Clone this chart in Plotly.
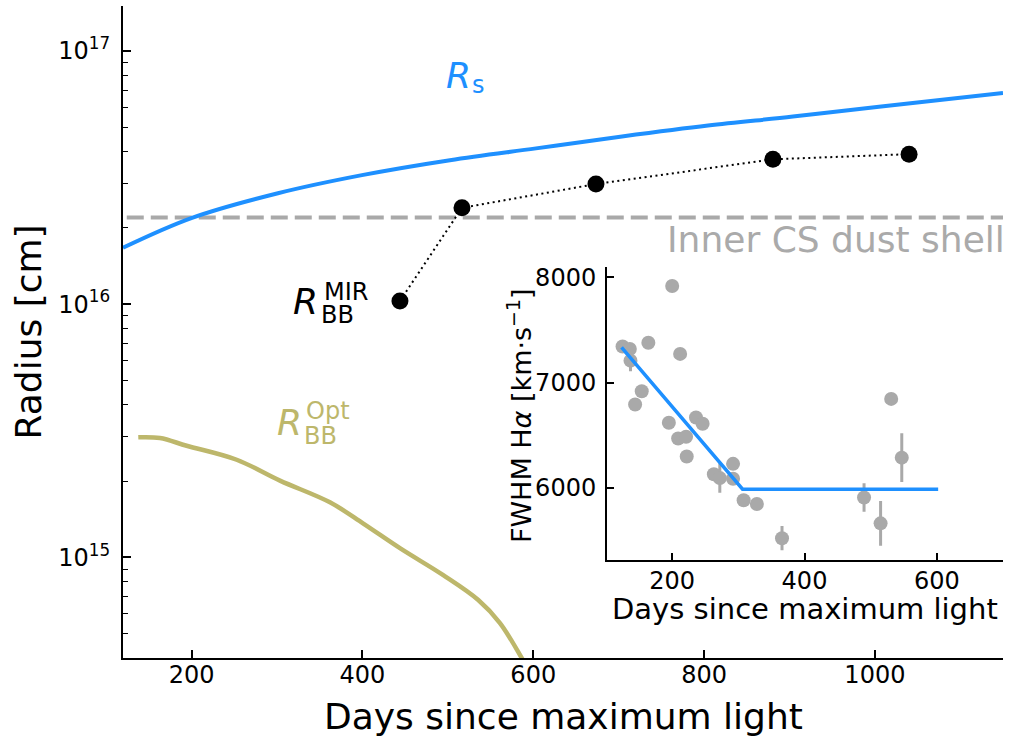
import plotly.graph_objects as go

# ---------------- main panel data ----------------
rs_days = [119.6, 200.4, 301, 399.4, 502.4, 603.2, 703.9, 804.6, 904, 1004.8, 1150]
rs_radius = [1.669e16, 2.19e16, 2.74e16, 3.23e16, 3.70e16, 4.12e16, 4.59e16, 5.07e16,
             5.50e16, 6.02e16, 6.82e16]

mir_days = [443.9, 516.5, 673.4, 880.6, 1040]
mir_radius = [1.03e16, 2.40e16, 2.98e16, 3.73e16, 3.91e16]

opt_days = [137.5, 162.9, 194.1, 252.7, 303.4, 361.9, 401, 444.3, 494.6, 535.6, 561, 586.4, 600]
opt_radius = [2.98e15, 2.96e15, 2.76e15, 2.43e15, 2.01e15, 1.65e15, 1.36e15, 1.085e15,
              8.51e14, 6.79e14, 5.51e14, 4.01e14, 3.3e14]

shell_days = [124, 1150]
shell_radius = [2.2e16, 2.2e16]

main_xticks = [200, 400, 600, 800, 1000]
main_yticks = [1e15, 1e16, 1e17]
main_yticktext = ["10<sup>15</sup>", "10<sup>16</sup>", "10<sup>17</sup>"]

# ---------------- inset data ----------------
fwhm_days = [125, 136, 137, 144, 154, 164, 200, 195, 212, 209, 221, 222, 236, 246, 263, 272,
             292, 292, 308, 328, 366, 490, 515, 531, 547]
fwhm_vals = [7345, 7320, 7210, 6794, 6920, 7380, 7919, 6620, 7274, 6471, 6488, 6300, 6670,
             6611, 6132, 6095, 6230, 6088, 5884, 5849, 5524, 5911, 5665, 6847, 6289]
fwhm_err = [40, 40, 100, 40, 40, 40, 40, 40, 40, 40, 40, 40, 40, 40, 40, 140,
            40, 40, 40, 40, 115, 136, 213, 40, 232]

fit_days = [123.5, 306.4, 602]
fit_vals = [7336, 5990, 5990]

inset_xticks = [200, 400, 600]
inset_yticks = [6000, 7000, 8000]

BLUE = "#1E90FF"
KHAKI = "#BDB76B"
GRAY = "#A9A9A9"
FONT = "DejaVu Sans"

minor_vals = []
for dec in [1e14, 1e15, 1e16]:
    for m in range(2, 10):
        minor_vals.append(m * dec)

fig = go.Figure()

fig.add_trace(go.Scatter(x=shell_days, y=shell_radius, mode="lines",
                         line=dict(color=GRAY, width=4, dash="17px,7px"),
                         xaxis="x", yaxis="y", showlegend=False))
fig.add_trace(go.Scatter(x=rs_days, y=rs_radius, mode="lines",
                         line=dict(color=BLUE, width=4, shape="spline"),
                         xaxis="x", yaxis="y", showlegend=False))
fig.add_trace(go.Scatter(x=opt_days, y=opt_radius, mode="lines",
                         line=dict(color=KHAKI, width=4.5, shape="spline"),
                         xaxis="x", yaxis="y", showlegend=False))
fig.add_trace(go.Scatter(x=mir_days, y=mir_radius, mode="lines+markers",
                         line=dict(color="black", width=2, dash="2px,3.5px"),
                         marker=dict(color="black", size=17),
                         xaxis="x", yaxis="y", showlegend=False))

# inset
fig.add_trace(go.Scatter(x=fwhm_days, y=fwhm_vals, mode="markers",
                         marker=dict(color=GRAY, size=14),
                         error_y=dict(type="data", array=fwhm_err, color=GRAY,
                                      thickness=3, width=0),
                         xaxis="x2", yaxis="y2", showlegend=False))
fig.add_trace(go.Scatter(x=fit_days, y=fit_vals, mode="lines",
                         line=dict(color=BLUE, width=3.5),
                         xaxis="x2", yaxis="y2", showlegend=False))

L, R, T, B = 123, 8, 3, 85
W, H = 1011, 743
PW = W - L - R
PH = H - T - B


def px(x):
    return (x - L) / PW


def py(y):
    return (H - B - y) / PH


axis_common = dict(showline=True, linecolor="black", linewidth=2, mirror=False,
                   ticks="inside", tickcolor="black", tickwidth=1.5,
                   showgrid=False, zeroline=False,
                   tickfont=dict(family=FONT, size=24, color="black"))

fig.update_layout(
    width=W, height=H,
    margin=dict(l=L, r=R, t=T, b=B),
    paper_bgcolor="white", plot_bgcolor="rgba(0,0,0,0)",
    font=dict(family=FONT, color="black"),
    xaxis=dict(domain=[0, 1], range=[119.6, 1150], tickvals=main_xticks,
               ticklen=8, ticklabelstandoff=-6, **axis_common),
    yaxis=dict(domain=[0, 1], type="log", range=[14.603, 17.177],
               tickvals=main_yticks, ticktext=main_yticktext, ticklen=8,
               ticklabelstandoff=6,
               minor=dict(tickmode="array", tickvals=minor_vals, ticks="inside",
                          ticklen=5, tickwidth=1.2, tickcolor="black"),
               **axis_common),
    xaxis2=dict(domain=[px(607), 1.0], range=[101.5, 700], anchor="y2",
                tickvals=inset_xticks, ticklen=7, ticklabelstandoff=-2, **axis_common),
    yaxis2=dict(domain=[py(560), py(265)], range=[5313, 8101], anchor="x2",
                tickvals=inset_yticks, ticklen=7, ticklabelstandoff=4, **axis_common),
)

ann = []


def add(text, x, y, size, color="black", xanchor="center", angle=0):
    ann.append(dict(text=text, x=px(x), y=py(y), xref="paper", yref="paper",
                    xanchor=xanchor, yanchor="middle", showarrow=False,
                    textangle=angle,
                    font=dict(family=FONT, size=size, color=color)))


add("<i>R</i>", 458.8, 73.3, 36, BLUE)
add("s", 478.3, 82.5, 24, BLUE)
add("<i>R</i>", 305.8, 300, 36, "black")
add("MIR", 345.9, 290.5, 24, "black")
add("BB", 337.7, 313.9, 24, "black")
add("<i>R</i>", 289.2, 421.7, 36, KHAKI)
add("Opt", 328.4, 409.5, 24, KHAKI)
add("BB", 320.3, 435, 24, KHAKI)
add("Inner CS dust shell", 1007, 237.2, 36, "#AAAAAA", xanchor="right")
add("Days since maximum light", 563, 717, 36)
add("Radius [cm]", 28, 331, 36, angle=-90)
add("FWHM H<i>α</i> [km·s<sup>−1</sup>]", 519, 415, 27, angle=-90)
add("Days since maximum light", 805, 609, 29)

fig.update_layout(annotations=ann)

fig.write_html("out.html")
